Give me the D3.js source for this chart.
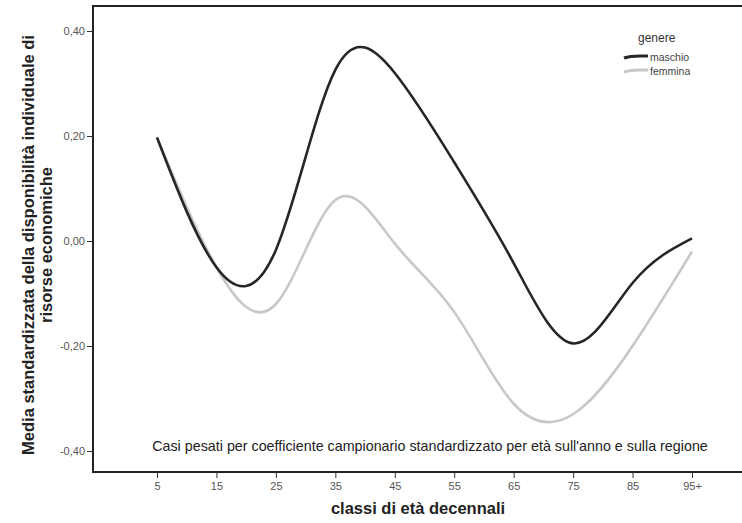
<!DOCTYPE html>
<html><head><meta charset="utf-8">
<script src="https://cdn.jsdelivr.net/npm/d3@7"></script>
<style>body{margin:0;background:#fff;} svg{display:block;font-family:"Liberation Sans",Arial,sans-serif;}</style>
</head><body>
<svg id="c" width="742" height="523"></svg>
<script>
const ages = ["5","15","25","35","45","55","65","75","85","95+"];
const ageValues = [5,15,25,35,45,55,65,75,85,95];
const maschio = [0.197, -0.05, -0.017, 0.326, 0.32, 0.15, -0.042, -0.195, -0.08, 0.005];
const femmina = [0.197, -0.05, -0.12, 0.078, -0.005, -0.135, -0.31, -0.33, -0.2, -0.02];
const yTicks = [-0.4, -0.2, 0, 0.2, 0.4];
const seriesNames = ["maschio", "femmina"];
const seriesColors = ["#262626", "#c8c8c8"];

const svg = d3.select("#c");
const mLeft = 93, mTop = 6, mBottom = 472, mRight = 760;
const x = d3.scaleLinear().domain([5, 95]).range([157, 692]);
const y = d3.scaleLinear().domain([-0.4, 0.4]).range([451, 31]);

// frame
svg.append("path").attr("d", `M${mRight},${mTop}H${mLeft}V${mBottom}H${mRight}`)
  .attr("fill", "none").attr("stroke", "#222").attr("stroke-width", 2);

const fmt = d => d3.format(".2f")(d).replace(".", ",").replace("−", "-");
const yAxis = svg.append("g").attr("transform", `translate(${mLeft},0)`)
  .call(d3.axisLeft(y).tickValues(yTicks).tickSize(6).tickFormat(fmt));
yAxis.select(".domain").remove();
yAxis.selectAll("line").attr("stroke", "#333");
yAxis.selectAll("text").attr("fill", "#555").attr("font-size", 11).attr("x", -8);

const xAxis = svg.append("g").attr("transform", `translate(0,${mBottom})`)
  .call(d3.axisBottom(x).tickValues(ageValues).tickSize(6).tickFormat((d, i) => ages[i]));
xAxis.select(".domain").remove();
xAxis.selectAll("line").attr("stroke", "#333");
xAxis.selectAll("text").attr("fill", "#555").attr("font-size", 11).attr("y", 10);

// axis titles
svg.append("text").attr("x", 418).attr("y", 514).attr("text-anchor", "middle")
  .attr("font-weight", "bold").attr("font-size", 16.5).attr("fill", "#222").text("classi di età decennali");
const yt = svg.append("text").attr("transform", "translate(0,245) rotate(-90)")
  .attr("text-anchor", "middle").attr("font-weight", "bold").attr("font-size", 16.5).attr("fill", "#222");
yt.append("tspan").attr("x", 0).attr("y", 34).text("Media standardizzata della disponibilità individuale di");
yt.append("tspan").attr("x", 0).attr("y", 52).text("risorse economiche");

// lines
const line = d3.line().x((d, i) => x(ageValues[i])).y(d => y(d)).curve(d3.curveNatural);
[femmina, maschio].forEach((s, k) => {
  const idx = k === 0 ? 1 : 0;
  svg.append("path").datum(s).attr("d", line).attr("fill", "none")
    .attr("stroke", seriesColors[idx]).attr("stroke-width", 2.6);
});

// annotation
svg.append("text").attr("x", 430).attr("y", 451).attr("text-anchor", "middle")
  .attr("font-size", 14.3).attr("fill", "#222")
  .text("Casi pesati per coefficiente campionario standardizzato per età sull'anno e sulla regione");

// legend
svg.append("text").attr("x", 638).attr("y", 42).attr("font-size", 12).attr("fill", "#333").text("genere");
seriesNames.forEach((n, i) => {
  const ly = 57 + i * 14;
  svg.append("path").attr("d", `M624,${ly + 1}C632,${ly - 2} 640,${ly - 1} 648,${ly - 1}`)
    .attr("fill", "none").attr("stroke", seriesColors[i]).attr("stroke-width", 3);
  svg.append("text").attr("x", 650).attr("y", ly + 4).attr("font-size", 10.5).attr("fill", "#444").text(n);
});
</script>
</body></html>
